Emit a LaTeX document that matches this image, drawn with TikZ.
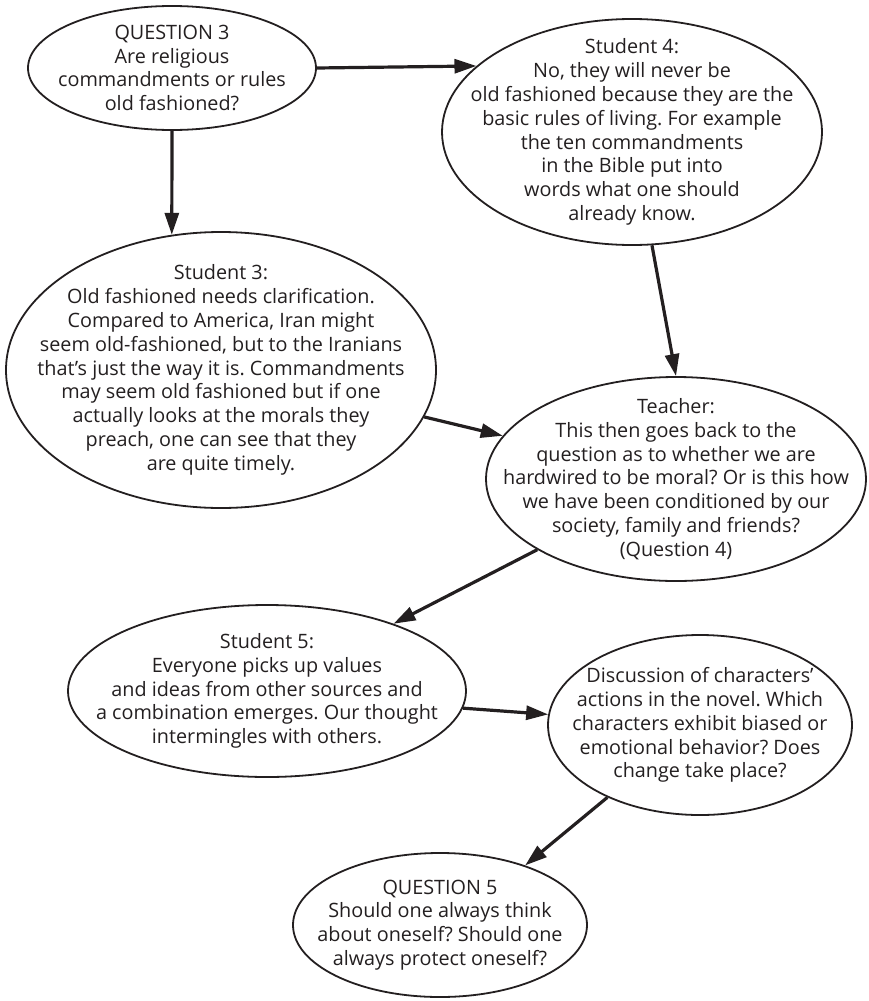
\documentclass[tikz,border=0pt]{standalone}
\usepackage{fontspec}
\setmainfont{Open Sans}
\usetikzlibrary{shapes.geometric,arrows.meta}
\definecolor{ink}{RGB}{35,31,32}
\frenchspacing

\begin{document}
\begin{tikzpicture}[x=1pt,y=-1pt,
   bubble/.style={draw=ink,ellipse,line width=1.8pt,inner sep=0pt},
   words/.style={align=center,text=ink,font=\fontsize{19.8}{23.8}\selectfont},
   link/.style={draw=ink,line width=3.2pt,-{Triangle[length=22pt,width=14pt]}}]
\useasboundingbox (0,0) rectangle (868,1001);

\node[bubble,minimum width=288pt,minimum height=124pt] (q3) at (172,68) {};
\node[words] (q3text) at (q3) {QUESTION 3\\Are religious\\commandments or rules\\old fashioned?};

\node[bubble,minimum width=380pt,minimum height=226pt] (stu4) at (632,132) {};
\node[words] (stu4text) at (stu4) {Student 4:\\No, they will never be\\old fashioned because they are the\\basic rules of living. For example\\the ten commandments\\in the Bible put into\\words what one should\\already know.};

\node[bubble,minimum width=430pt,minimum height=276pt] (stu3) at (221,370) {};
\node[words] (stu3text) at (stu3) {Student 3:\\Old fashioned needs clarification.\\Compared to America, Iran might\\seem old-fashioned, but to the Iranians\\that’s just the way it is. Commandments\\may seem old fashioned but if one\\actually looks at the morals they\\preach, one can see that they\\are quite timely.};

\node[bubble,minimum width=380pt,minimum height=204pt] (teacher) at (676,479) {};
\node[words] (teachertext) at (teacher) {Teacher:\\This then goes back to the\\question as to whether we are\\hardwired to be moral? Or is this how\\we have been conditioned by our\\society, family and friends?\\(Question 4)};

\node[bubble,minimum width=398pt,minimum height=172pt] (stu5) at (267,691) {};
\node[words] (stu5text) at (stu5) {Student 5:\\Everyone picks up values\\and ideas from other sources and\\a combination emerges. Our thought\\intermingles with others.};

\node[bubble,minimum width=304pt,minimum height=180pt] (novel) at (700,725) {};
\node[words] (noveltext) at (novel) {Discussion of characters’\\actions in the novel. Which\\characters exhibit biased or\\emotional behavior? Does\\change take place?};

\node[bubble,minimum width=294pt,minimum height=144pt] (q5) at (440,925) {};
\node[words] (q5text) at (q5) {QUESTION 5\\Should one always think\\about oneself? Should one\\always protect oneself?};

\draw[link] (q3.east) -- (stu4.157);
\draw[link] (q3.south) -- (stu3.110);
\draw[link] (stu4.-80) -- (teacher.north);
\draw[link] (stu3.-13) -- (teacher.166);
\draw[link] (teacher.207) -- (stu5.28);
\draw[link] (stu5.-5) -- (novel.176);
\draw[link] (novel.218) -- (q5.35);
\end{tikzpicture}
\end{document}
